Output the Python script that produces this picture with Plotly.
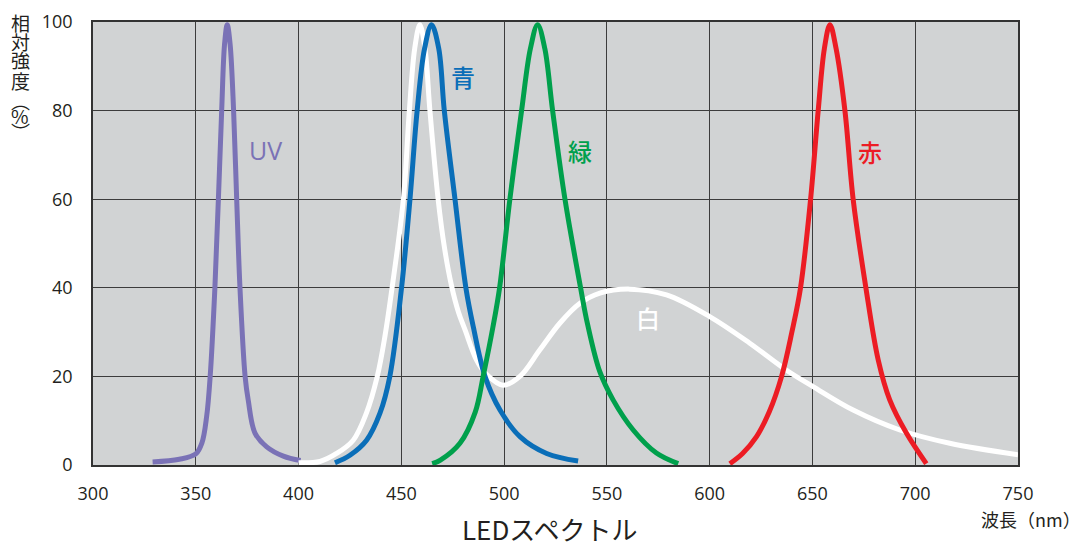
import plotly.graph_objects as go

# wavelength (nm) / relative intensity (%)
uv_nm = [329, 342, 350, 353, 355.3, 357, 359.3, 361, 362.6, 364, 365.3, 366.7,
         368.4, 369.9, 371.5, 374, 375.5, 378.8, 384.5, 392.6, 401]
uv_val = [0.7, 1.3, 2.5, 5, 11, 20, 40, 60, 80, 95, 99.4, 95, 80, 60, 40, 20,
          14.7, 7.2, 4.1, 2, 1]

white_nm = [400, 410.4, 418.5, 426.6, 433, 438.3, 442, 445.5, 451, 453.9, 456.5,
            459, 461.5, 463.9, 467.9, 471, 474.4, 477.8, 481, 486.6, 491.4,
            499.5, 507.7, 517.4, 527.1, 536.9, 546.6, 561, 579, 600, 619.5,
            637.4, 650.3, 669.8, 692.5, 716.8, 750]
white_val = [0.5, 0.8, 2.6, 5.6, 11.7, 20, 29, 40, 60, 80, 94, 99.4, 94, 80, 60,
             49, 40.5, 34.5, 30.5, 23.7, 20.5, 18, 20, 26, 32, 36.5, 38.8, 39.7,
             38.4, 33.5, 27.5, 21.4, 17.7, 12.4, 7.9, 4.9, 2.3]

blue_nm = [417.7, 425, 433.1, 439.6, 444.4, 450.1, 454.2, 457.7, 461.3, 464.7,
           468.2, 470.9, 476.1, 481.4, 485, 490.7, 498, 507.7, 520.7, 536]
blue_val = [0.5, 2.2, 5.6, 11.7, 20, 40, 60, 80, 94, 99.4, 94, 80, 60, 40, 31.2,
            20, 12.4, 6.4, 2.6, 0.9]

green_nm = [465, 469, 478.5, 486, 489.8, 494.5, 497.8, 502.8, 508.5, 512.8, 516.3,
            519.8, 523.6, 529.6, 537.2, 540.5, 546.6, 553, 562.8, 574.1, 584.7]
green_val = [0.3, 1.1, 4.9, 12, 20, 31, 40, 60, 80, 94, 99.4, 94, 80, 60, 40, 32,
             21, 14.7, 7.9, 2.7, 0.3]

red_nm = [609.8, 616, 622.8, 629, 635, 640, 644.2, 649.1, 652.8, 655.8, 658.5,
          661.5, 665.8, 669.8, 676, 682, 687.6, 695.7, 705.4]
red_val = [0.3, 2.6, 6.4, 12, 20, 30, 40, 60, 80, 94, 99.4, 94, 80, 60, 40, 23.7,
           14.7, 7.2, 0.3]

x_ticks = [300, 350, 400, 450, 500, 550, 600, 650, 700, 750]
y_ticks = [0, 20, 40, 60, 80, 100]

series = [
    ("UV", uv_nm, uv_val, "#7a72b6", 383.7, 71),
    ("白", white_nm, white_val, "#ffffff", 570, 33.2),
    ("青", blue_nm, blue_val, "#0a6eb8", 480, 87.6),
    ("緑", green_nm, green_val, "#00a04c", 537, 71),
    ("赤", red_nm, red_val, "#ec1c24", 677.9, 70.7),
]

text_col = "#231f20"
num_font = "Open Sans, Liberation Sans, sans-serif"
jp_font = "Noto Sans CJK JP, sans-serif"

fig = go.Figure()
annotations = []
for name, xs, ys, col, lx, ly in series:
    fig.add_trace(
        go.Scatter(
            x=xs,
            y=ys,
            mode="lines",
            name=name,
            line=dict(color=col, width=5, shape="spline", smoothing=1.0),
            showlegend=False,
            hoverinfo="skip",
        )
    )
    annotations.append(
        dict(
            x=lx, y=ly, xref="x", yref="y", text=name, showarrow=False,
            xanchor="center", yanchor="middle",
            font=dict(family=num_font if name == "UV" else jp_font,
                      size=25 if name == "UV" else 24, color=col, weight=500),
        )
    )

# plot area in page pixels: x 93..1018, y 22..465
def px_x(px):
    return (px - 93) / 925


def px_y(py):
    return (465 - py) / 443


# vertical y-axis title, one glyph per row
ytitle_chars = ["相", "対", "強", "度", "︵", "%", "︶"]
ytitle_px = [22, 41, 60, 80, 100, 116, 132]
for ch, py in zip(ytitle_chars, ytitle_px):
    annotations.append(
        dict(
            x=px_x(20), y=px_y(py), xref="paper", yref="paper",
            xanchor="center", yanchor="middle", text=ch, showarrow=False,
            font=dict(family=jp_font, size=19, color=text_col),
        )
    )

annotations.append(
    dict(x=px_x(550), y=px_y(528), xref="paper", yref="paper",
         xanchor="center", yanchor="middle", text="LEDスペクトル",
         showarrow=False, font=dict(family=jp_font, size=26, color=text_col))
)
annotations.append(
    dict(x=px_x(1031), y=px_y(519), xref="paper", yref="paper",
         xanchor="center", yanchor="middle", text="波長（nm）",
         showarrow=False, font=dict(family=jp_font, size=18, color=text_col))
)

# page body has an 8px margin, so the figure is shrunk and shifted to fit
fig.update_layout(
    width=1077,
    height=539,
    margin=dict(l=85, r=67, t=14, b=82, autoexpand=False),
    paper_bgcolor="white",
    plot_bgcolor="#d1d3d4",
    annotations=annotations,
    font=dict(family=num_font, size=18, color=text_col),
)
fig.update_xaxes(
    range=[300, 750], tickvals=x_ticks, showgrid=True, gridcolor="#3c3c3c",
    gridwidth=1, zeroline=False, showline=True, linecolor="#333333",
    linewidth=2, mirror=True, ticks="outside", ticklen=11,
    tickcolor="rgba(0,0,0,0)", tickfont=dict(size=18, color=text_col),
)
fig.update_yaxes(
    range=[0, 100], tickvals=y_ticks, showgrid=True, gridcolor="#3c3c3c",
    gridwidth=1, zeroline=False, showline=True, linecolor="#333333",
    linewidth=1.5, mirror=True, ticks="outside", ticklen=15,
    tickcolor="rgba(0,0,0,0)", tickfont=dict(size=18, color=text_col),
)

fig.write_html("out.html")
